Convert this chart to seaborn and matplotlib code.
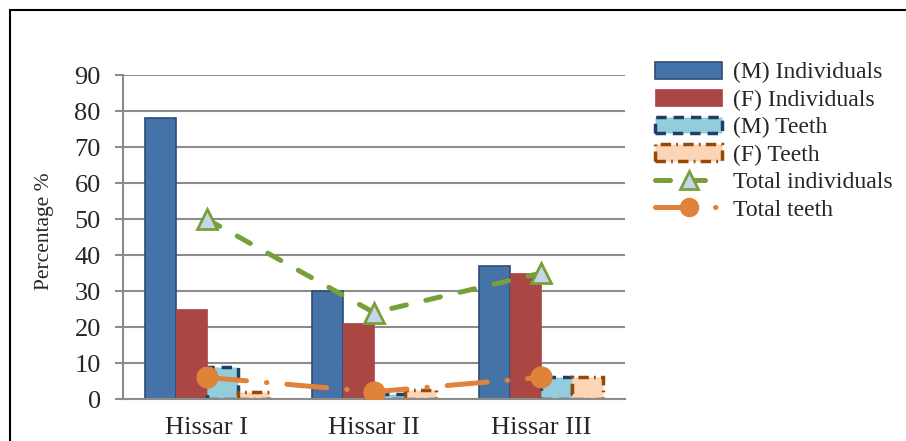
import numpy as np
import pandas as pd
import matplotlib
matplotlib.use('Agg')
import matplotlib.pyplot as plt
import seaborn as sns
from matplotlib.patches import Patch, Rectangle
from matplotlib.lines import Line2D

sites = ['Hissar I', 'Hissar II', 'Hissar III']
m_individuals = [78, 30, 37]
f_individuals = [25, 21, 35]
m_teeth = [9, 1.5, 6]
f_teeth = [2, 2.5, 6]
total_individuals = [50, 24, 35]
total_teeth = [6, 2, 6]

bar_series = ['(M) Individuals', '(F) Individuals', '(M) Teeth', '(F) Teeth']
bar_values = [m_individuals, f_individuals, m_teeth, f_teeth]
face_colors = ['#4572A7', '#AA4643', '#92CDDC', '#FBD5B5']
edge_colors = ['#2C4D75', '#AA4643', '#1F3F66', '#984807']
edge_styles = ['-', '-', (0, (3, 2)), (0, (3, 1.5, 0.5, 1.5))]
edge_widths = [1.2, 0.5, 2.5, 2.5]

green = '#77A03A'
orange = '#E0823A'
green_dash = (3, 4)
orange_dash = (8, 4, 0.1, 4)

rows = []
for name, vals in zip(bar_series, bar_values):
    for s, v in zip(sites, vals):
        rows.append({'site': s, 'series': name, 'value': v})
df = pd.DataFrame(rows)

sns.set_style('white')
plt.rcParams['font.family'] = ['Liberation Serif', 'DejaVu Serif']

fig = plt.figure(figsize=(9.06, 4.41), dpi=100)
ax = fig.add_axes([123 / 906, 42 / 441, 502 / 906, 324 / 441])

sns.barplot(data=df, x='site', y='value', hue='series', hue_order=bar_series,
            width=0.74, gap=0, ax=ax, legend=False, saturation=1)

for cont, fc, ec, ls, lw in zip(ax.containers, face_colors, edge_colors, edge_styles, edge_widths):
    for p in cont:
        p.set_facecolor(fc)
        p.set_edgecolor(ec)
        p.set_linestyle(ls)
        p.set_linewidth(lw)

x = np.arange(len(sites))
ax.plot(x, total_individuals, color=green, lw=3.6, dashes=green_dash,
        dash_capstyle='round', marker='^', ms=15, mfc='#C6D5EA', mec=green, mew=2, zorder=5)
ax.plot(x, total_teeth, color=orange, lw=3.6, dashes=orange_dash,
        dash_capstyle='round', marker='o', ms=15, mfc=orange, mec=orange, zorder=5)

ax.set_ylim(0, 90)
ax.set_xlim(-0.5, 2.5)
ax.set_yticks(range(0, 91, 10))
ax.yaxis.grid(True, color='#8C8C8C', lw=1.5)
ax.set_axisbelow(True)
for side in ['top', 'right']:
    ax.spines[side].set_visible(False)
for side in ['left', 'bottom']:
    ax.spines[side].set_color('#8C8C8C')
    ax.spines[side].set_linewidth(1.5)
ax.tick_params(axis='y', length=6, width=1.5, color='#8C8C8C', pad=10, labelsize=19, left=True)
ax.tick_params(axis='x', length=0, pad=13, labelsize=19)
ax.set_xlabel('')
ax.set_ylabel('Percentage %', fontsize=15.5)
ax.yaxis.set_label_coords(-0.137, 0.517)

handles = []
for name, fc, ec, ls, lw in zip(bar_series, face_colors, edge_colors, edge_styles, edge_widths):
    handles.append(Patch(facecolor=fc, edgecolor=ec, linestyle=ls, linewidth=lw, label=name))
handles.append(Line2D([], [], color=green, lw=3.6, dashes=green_dash, dash_capstyle='round',
                      marker='^', ms=13, mfc='#C6D5EA', mec=green, mew=2, label='Total individuals'))
handles.append(Line2D([], [], color=orange, lw=3.6, dashes=orange_dash, dash_capstyle='round',
                      marker='o', ms=13, mfc=orange, mec=orange, label='Total teeth'))
fig.legend(handles=handles, loc='upper left', bbox_to_anchor=(655 / 906, 1 - 62 / 441),
           frameon=False, fontsize=17, handlelength=2.85, handleheight=0.7,
           labelspacing=0.25, handletextpad=0.45, borderaxespad=0, borderpad=0)

fig.patches.append(Rectangle((10 / 906, -0.1), 1.0, 1.1 - 10 / 441, transform=fig.transFigure,
                             fill=False, edgecolor='black', lw=1.5))

fig.savefig('out.png', dpi=100)
